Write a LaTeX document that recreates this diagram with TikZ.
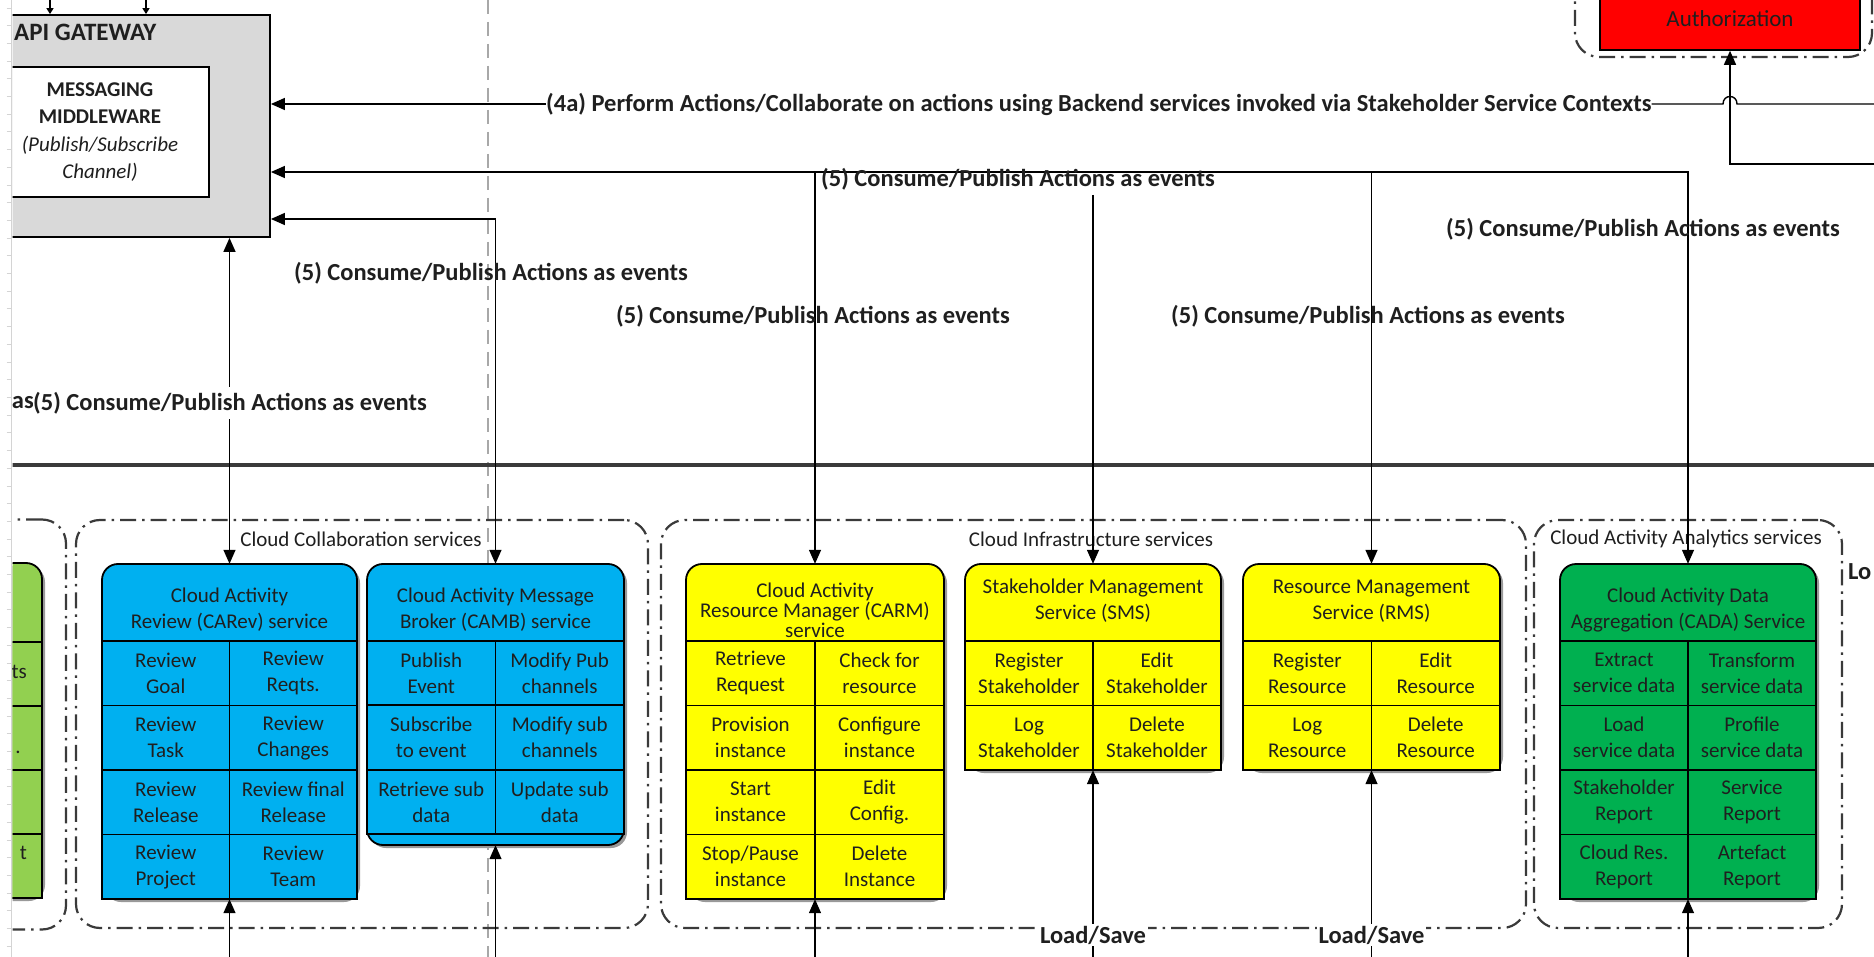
\documentclass[tikz,border=0pt]{standalone}
\usepackage{fontspec}
\setmainfont{Carlito}
\usetikzlibrary{arrows.meta}

\definecolor{ink}{HTML}{1F1F1F}
\definecolor{gwgray}{HTML}{D9D9D9}
\definecolor{boxblue}{HTML}{00B0F0}
\definecolor{boxyellow}{HTML}{FFFF00}
\definecolor{boxgreen}{HTML}{00B050}
\definecolor{boxlime}{HTML}{92D050}
\definecolor{authred}{HTML}{FF0000}
\definecolor{framegray}{HTML}{3A3A3A}
\definecolor{lanegray}{HTML}{A8A8A8}
\definecolor{rulergray}{HTML}{D4D4D4}

\tikzset{
  boxline/.style={draw=black, line width=1.8pt},
  conn/.style={draw=black, line width=1.4pt},
  arrowend/.style={-{Triangle[length=14pt,width=12pt]}},
  arrowboth/.style={{Triangle[length=14pt,width=12pt]}-{Triangle[length=14pt,width=12pt]}},
  celltext/.style={font=\fontsize{21}{26}\selectfont, align=center, text=ink, inner sep=0pt},
  boldlabel/.style={font=\bfseries\fontsize{24.5}{28}\selectfont, text=ink, inner sep=0pt},
  grouplabel/.style={font=\fontsize{21}{25}\selectfont, text=ink, inner sep=0pt},
  groupframe/.style={draw=framegray, line width=2.2pt, rounded corners=24pt,
    dash pattern=on 16pt off 6pt on 2.5pt off 6pt, inner sep=0pt},
  boxshade/.style={fill=black!40},
}

% service box: name, left, right, top, header bottom, grid bottom, outline bottom, fill, cells
\newcommand\svcbox[9]{%
  \fill[boxshade, rounded corners=16pt] ({#2+3},{#4+3}) rectangle ({#3+3},{#7+3});
  \draw[boxline, fill=#8, rounded corners=16pt] (#2,#4) rectangle (#3,#7);
  \draw[boxline, fill=#8] (#2,#5) rectangle (#3,#6);
  \pgfmathsetmacro\svcmid{(#2+#3)/2}
  \pgfmathsetmacro\svcquarter{(#3-#2)/4}
  \pgfmathtruncatemacro\svcrows{round((#6-#5)/64.5)}
  \pgfmathsetmacro\svcrh{(#6-#5)/\svcrows}
  \draw[boxline] (\svcmid,#5) -- (\svcmid,#6);
  \ifnum\svcrows>1
    \foreach \k in {2,...,\svcrows}{\draw[boxline] (#2,{#5+(\k-1)*\svcrh}) -- (#3,{#5+(\k-1)*\svcrh});}
  \fi
  \node[inner sep=0pt, minimum width={(#3-#2)*1pt}, minimum height={(#7-#4)*1pt}] (#1) at (\svcmid,{(#4+#7)/2}) {};
  \foreach \rowi/\coli/\celltxt [count=\cellno] in {#9}{
    \node[celltext] (#1-\cellno) at ({#2+(2*\coli-1)*\svcquarter},{#5+(\rowi-0.5)*\svcrh}) {\celltxt};
  }
}

\begin{document}
\begin{tikzpicture}[x=1pt, y=-1pt]
\useasboundingbox (0,0) rectangle (1874,957);
\fill[white] (0,0) rectangle (1874,957);

% page ruler at the left edge
\draw[rulergray, line width=1pt] (11.5,0) -- (11.5,957);
\foreach \k in {0,...,53} \draw[rulergray, line width=0.8pt] (6.5,{8+\k*17.7}) -- (11.5,{8+\k*17.7});

\begin{scope}
\clip (12.5,0) rectangle (1874,957);

% lane marker and lane separator
\draw[lanegray, line width=1.3pt, dash pattern=on 14pt off 8pt] (488,0) -- (488,957);
\draw[draw=framegray, line width=3.5pt] (0,465) -- (1874,465);

% API gateway with its messaging middleware
\node[draw=black, line width=1.8pt, fill=gwgray, minimum width=290pt, minimum height=222pt, inner sep=0pt] (apigw) at (125,126) {};
\node[boldlabel, font=\bfseries\fontsize{25}{29}\selectfont, anchor=west] (apigw-title) at (14,32) {API GATEWAY};
\node[draw=black, line width=1.8pt, fill=white, minimum width=229pt, minimum height=130pt, inner sep=0pt] (msgmw) at (94.5,132) {};
\node[font=\fontsize{21}{27.5}\selectfont, align=center, text=ink, inner sep=0pt] (msgmw-text) at (100,132)
  {\textbf{MESSAGING}\\\textbf{MIDDLEWARE}\\\textit{(Publish/Subscribe}\\\textit{Channel)}};
\coordinate (stubA) at (50,-5);
\coordinate (stubB) at (146,-5);
\draw[conn, -{Triangle[length=6pt,width=7pt]}] (stubA) -- (apigw.north -| stubA);
\draw[conn, -{Triangle[length=6pt,width=7pt]}] (stubB) -- (apigw.north -| stubB);

% authorization
\node[groupframe, minimum width=297pt, minimum height=120pt] (authgroup) at (1723.5,-3) {};
\node[draw=black, line width=1.6pt, fill=authred, minimum width=260pt, minimum height=90pt, inner sep=0pt] (auth) at (1730,5) {};
\node[font=\fontsize{23}{27}\selectfont, text=ink, inner sep=0pt] (auth-text) at (1730,19) {Authorization};

% service groups
\node[groupframe, minimum width=166pt, minimum height=410pt] (legacy-group) at (-17,724.5) {};
\node[groupframe, minimum width=572pt, minimum height=408pt] (collab) at (362,724) {};
\node[groupframe, minimum width=865pt, minimum height=408pt] (infra) at (1093.5,724) {};
\node[groupframe, minimum width=308pt, minimum height=408pt] (analytics) at (1688,724) {};
\node[grouplabel] (collab-label) at (361,539) {Cloud Collaboration services};
\node[grouplabel] (infra-label) at (1091,539) {Cloud Infrastructure services};
\node[grouplabel] (analytics-label) at (1686,539) {Cloud Activity Analytics services};

% partly visible service box on the left
\fill[boxshade, rounded corners=16pt] (-57,566) rectangle (45,901);
\draw[boxline, fill=boxlime, rounded corners=16pt] (-60,563) rectangle (42,898);
\draw[boxline, fill=boxlime] (-60,642) rectangle (42,898);
\foreach \yy in {706,770,834} \draw[boxline] (-60,\yy) -- (42,\yy);
\node[inner sep=0pt, minimum width=102pt, minimum height=335pt] (legacy) at (-9,730.5) {};
\node[celltext, anchor=east] (legacy-1) at (27,672) {ts};
\node[celltext, anchor=east] (legacy-2) at (21,752) {.};
\node[celltext, anchor=east] (legacy-3) at (27,853) {t};

% service boxes
\svcbox{carev}{102}{357}{564}{641}{899}{899}{boxblue}{1/1/{Review\\Goal}, 1/2/{Review\\Reqts.}, 2/1/{Review\\Task}, 2/2/{Review\\Changes}, 3/1/{Review\\Release}, 3/2/{Review final\\Release}, 4/1/{Review\\Project}, 4/2/{Review\\Team}}
\node[celltext] (carev-head) at (229.5,610) {Cloud Activity\\Review (CARev) service};

\svcbox{camb}{367}{624}{564}{641}{834}{845}{boxblue}{1/1/{Publish\\Event}, 1/2/{Modify Pub\\channels}, 2/1/{Subscribe\\to event}, 2/2/{Modify sub\\channels}, 3/1/{Retrieve sub\\data}, 3/2/{Update sub\\data}}
\node[celltext] (camb-head) at (495.5,610) {Cloud Activity Message\\Broker (CAMB) service};

\svcbox{carm}{686}{944}{564}{641}{899}{899}{boxyellow}{1/1/{Retrieve\\Request}, 1/2/{Check for\\resource}, 2/1/{Provision\\instance}, 2/2/{Configure\\instance}, 3/1/{Start\\instance}, 3/2/{Edit\\Config.}, 4/1/{Stop/Pause\\instance}, 4/2/{Delete\\Instance}}
\node[celltext, font=\fontsize{21}{20}\selectfont] (carm-head) at (815,610) {Cloud Activity\\Resource Manager (CARM)\\service};

\svcbox{sms}{965}{1221}{564}{641}{770}{770}{boxyellow}{1/1/{Register\\Stakeholder}, 1/2/{Edit\\Stakeholder}, 2/1/{Log\\Stakeholder}, 2/2/{Delete\\Stakeholder}}
\node[celltext] (sms-head) at (1093,601) {Stakeholder Management\\Service (SMS)};

\svcbox{rms}{1243}{1500}{564}{641}{770}{770}{boxyellow}{1/1/{Register\\Resource}, 1/2/{Edit\\Resource}, 2/1/{Log\\Resource}, 2/2/{Delete\\Resource}}
\node[celltext] (rms-head) at (1371.5,601) {Resource Management\\Service (RMS)};

\svcbox{cada}{1560}{1816}{564}{641}{899}{899}{boxgreen}{1/1/{Extract\\service data}, 1/2/{Transform\\service data}, 2/1/{Load\\service data}, 2/2/{Profile\\service data}, 3/1/{Stakeholder\\Report}, 3/2/{Service\\Report}, 4/1/{Cloud Res.\\Report}, 4/2/{Artefact\\Report}}
\node[celltext] (cada-head) at (1688,610) {Cloud Activity Data\\Aggregation (CADA) Service};

% connector routing points
\coordinate (bus) at (0,172);
\coordinate (cambrow) at (0,219);
\coordinate (smsstub) at (0,195);
\coordinate (floor) at (0,962);
\coordinate (authfeed) at (1880,164);
\coordinate (edge4a) at (1880,104);

% request from the right into the gateway
\node[boldlabel, anchor=west] (lbl4a) at (546,104) {(4a) Perform Actions/Collaborate on actions using Backend services invoked via Stakeholder Service Contexts};
\draw[conn, arrowend] (lbl4a.west) -- (apigw.east |- lbl4a.west);
\coordinate (hop) at (auth.south |- lbl4a.east);
\draw[conn] (lbl4a.east) -- ([xshift=-7pt]hop) .. controls +(0,-10) and +(0,-10) .. ([xshift=7pt]hop) -- (edge4a);
\draw[conn, arrowend] (authfeed) -- (auth.south |- authfeed) -- (auth.south);

% event connectors between the gateway and the services
\draw[conn, arrowboth] (carev.north |- apigw.south) -- (carev.north);
\draw[conn, arrowboth] (apigw.east |- cambrow) -- (camb.north |- cambrow) -- (camb.north);
\draw[conn, arrowboth] (apigw.east |- bus) -- (cada.north |- bus) -- (cada.north);
\draw[conn, arrowend] (carm.north |- bus) -- (carm.north);
\draw[conn, arrowend] (rms.north |- bus) -- (rms.north);
\draw[conn, arrowend] (sms.north |- smsstub) -- (sms.north);

% connectors from the storage layer below
\foreach \b in {carev,camb,carm,sms,rms,cada}
  \draw[conn, arrowend] (\b.south |- floor) -- (\b.south);
\node[boldlabel, fill=white, inner sep=2pt] (sms-store) at (sms.south |- 0,935) {Load/Save};
\node[boldlabel, fill=white, inner sep=2pt] (rms-store) at (rms.south |- 0,935) {Load/Save};

% event labels
\node[boldlabel, anchor=west] (ev1) at (821,179) {(5) Consume/Publish Actions as events};
\node[boldlabel, anchor=west] (ev2) at (294,273) {(5) Consume/Publish Actions as events};
\node[boldlabel, anchor=west] (ev3) at (616,316) {(5) Consume/Publish Actions as events};
\node[boldlabel, anchor=west] (ev4) at (1171,316) {(5) Consume/Publish Actions as events};
\node[boldlabel, anchor=west] (ev5) at (1446,229) {(5) Consume/Publish Actions as events};
\node[boldlabel, anchor=east] (evas) at (34,403) {as};
\node[boldlabel, anchor=west, fill=white, inner xsep=0pt, inner ysep=5pt] (ev6) at (33,403) {(5) Consume/Publish Actions as events};
\node[boldlabel, anchor=west] (lo) at (1848,572) {Lo};
\end{scope}
\end{tikzpicture}
\end{document}
